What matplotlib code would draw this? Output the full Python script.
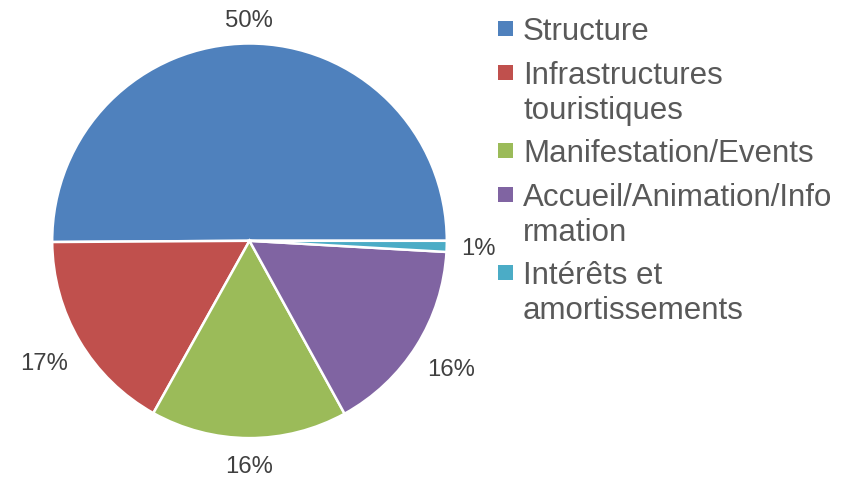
import numpy as np
import matplotlib.pyplot as plt
from matplotlib.patches import Rectangle

plt.rcParams['font.family'] = ['Liberation Sans', 'DejaVu Sans']

#------------------------------------------------------------
# data
categories = ['Structure',
              'Infrastructures\ntouristiques',
              'Manifestation/Events',
              'Accueil/Animation/Info\nrmation',
              'Intérêts et\namortissements']
shares = [50.1, 16.8, 16.1, 16.1, 0.9]
colors = ['#4F81BD', '#C0504D', '#9BBB59', '#8064A2', '#4BACC6']

# how far out each percent label sits (in pie radii)
label_dist = [1.127, 1.207, 1.135, 1.21, 1.16]

W, H = 851, 478

def fx(x):
    return x / W

def fy(y):
    return 1 - y / H

#------------------------------------------------------------
fig = plt.figure(figsize=(W / 100, H / 100), dpi=100)

# pie centre and radius in pixels
cx, cy, r = 249.5, 240.8, 197.3
ax = fig.add_axes([fx(cx - r), fy(cy + r), 2 * r / W, 2 * r / H])

wedges, _ = ax.pie(shares, colors=colors, startangle=0, counterclock=True,
                   wedgeprops=dict(edgecolor='white', linewidth=1.8))
ax.set_xlim(-1, 1)
ax.set_ylim(-1, 1)

# percent labels outside the wedges
total = sum(shares)
for w, v, d in zip(wedges, shares, label_dist):
    ang = np.deg2rad((w.theta1 + w.theta2) / 2)
    ax.annotate('%.0f%%' % (100 * v / total),
                xy=(d * np.cos(ang), d * np.sin(ang)),
                xytext=(0, -1.5), textcoords='offset points',
                ha='center', va='center', fontsize=17.2, color='#404040',
                annotation_clip=False)

#------------------------------------------------------------
# legend, Excel style: square marker by the first line of each entry
y = 28.5          # centre of first marker, px from top
step = 43.75      # one-line entry
extra = 34.5      # each additional wrapped line
sq = 15
for name, c in zip(categories, colors):
    fig.add_artist(Rectangle((fx(498), fy(y + sq / 2)), sq / W, sq / H,
                             transform=fig.transFigure, fc=c, ec='none'))
    lines = name.split('\n')
    for k, line in enumerate(lines):
        fig.text(fx(523), fy(y + 11.8 + k * extra), line, ha='left',
                 va='baseline', fontsize=22.5, color='#595959')
    y += step + extra * (len(lines) - 1)

fig.savefig('out.png', dpi=100)
